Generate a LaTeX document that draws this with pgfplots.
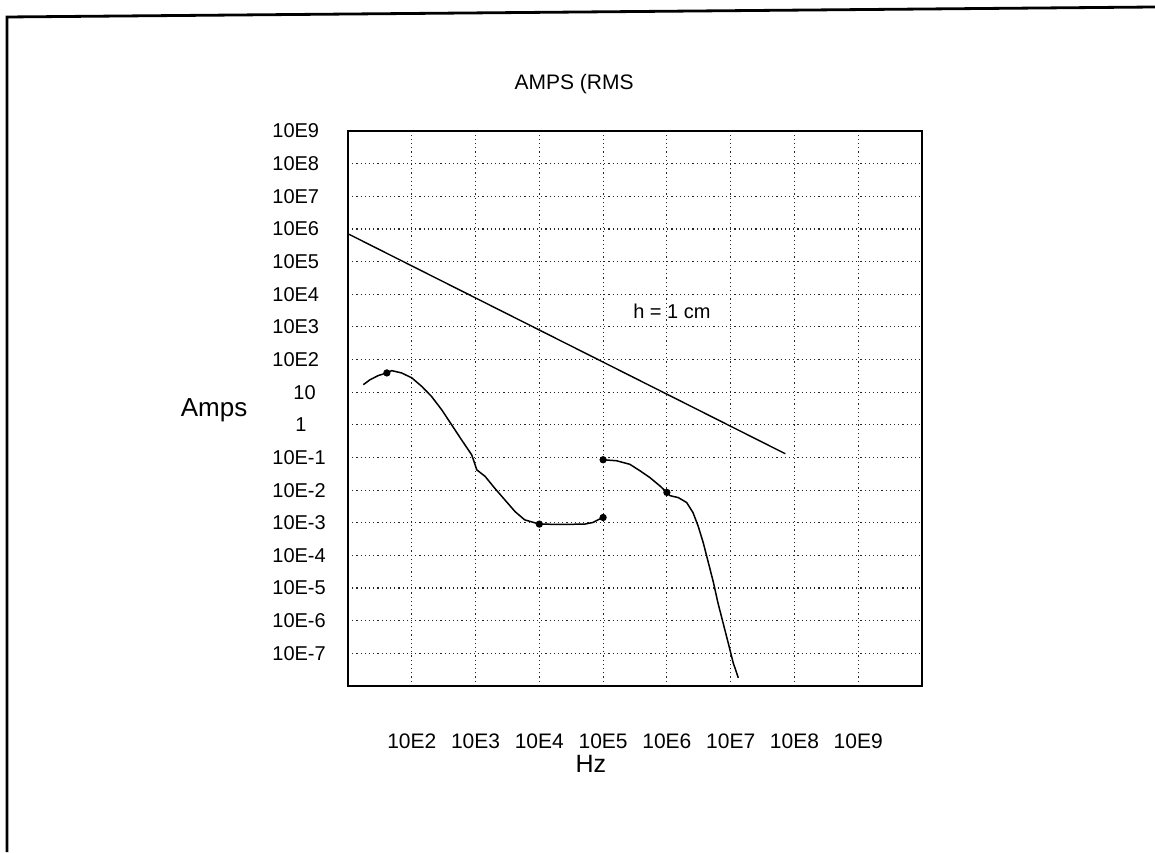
\documentclass[border=0pt]{standalone}
\usepackage{pgfplots}
\pgfplotsset{compat=1.18}
\usepackage{fontspec}
\setmainfont{Liberation Sans}
\begin{document}
\begin{tikzpicture}[x=0.5pt,y=0.5pt]
\useasboundingbox (0,0) rectangle (1155,852);
\fill[white] (0,0) rectangle (1155,852);
\draw[line width=1.4pt] (7,0) -- (7,835) -- (1155,845);
\begin{axis}[
  at={(174pt,83pt)}, anchor=south west,
  width=287pt, height=277.5pt, scale only axis,
  xmode=log, ymode=log,
  xmin=1e1, xmax=1e10, ymin=1e-8, ymax=1e9,
  xtick={1e2,1e3,1e4,1e5,1e6,1e7,1e8,1e9},
  xticklabels={10E2,10E3,10E4,10E5,10E6,10E7,10E8,10E9},
  ytick={1e-7,1e-6,1e-5,1e-4,1e-3,1e-2,1e-1,1,1e1,1e2,1e3,1e4,1e5,1e6,1e7,1e8,1e9},
  yticklabels={10E-7,10E-6,10E-5,10E-4,10E-3,10E-2,10E-1,\hspace*{11.5pt}1,\hspace*{10.5pt}10,10E2,10E3,10E4,10E5,10E6,10E7,10E8,10E9},
  minor xtick={}, minor ytick={},
  major tick length=0pt, minor tick length=0pt,
  grid=major,
  major grid style={black!85, line width=0.6pt, dash pattern=on 0.6pt off 1.5pt},
  axis line style={line width=1.1pt},
  yticklabel style={font=\fontsize{10}{12}\selectfont, anchor=west, inner sep=0pt, xshift=-38pt},
  xticklabel style={font=\fontsize{10.5}{12}\selectfont, anchor=center, inner sep=0pt, yshift=-27.5pt},
  title={AMPS (RMS},
  title style={at={(axis description cs:0.394,1.0532)}, anchor=base, inner sep=0pt, font=\fontsize{10.5}{12}\selectfont},
  xlabel={Hz},
  xlabel style={at={(axis description cs:0.423,-0.155)}, anchor=base, inner sep=0pt, font=\fontsize{12.5}{14}\selectfont},
  ylabel={Amps},
  ylabel style={rotate=-90, at={(axis description cs:-0.2334,0.4847)}, anchor=base, inner sep=0pt, font=\fontsize{13}{15}\selectfont},
]
% h = 1 cm line
\addplot[black, line width=0.7pt] coordinates {(10,7.1e5) (7.2e7,0.13)};
% low-frequency curve
\addplot[black, line width=0.75pt] coordinates {
(17.4,17.0) (22.1,24.0) (29.9,32.4) (40.7,38.9) (48.4,45.7) (69.2,38.9)
(100,27.5) (143,15.1) (204,7.41) (295,2.88) (422,1.0) (603,0.347)
(871,0.120) (1047,0.0417) (1413,0.0263) (1995,0.0115) (2884,0.00501)
(4169,0.00219) (5888,0.00123) (10000,0.00091) (22390,0.00089)
(51290,0.00091) (69180,0.00102) (83180,0.00123) (100000,0.00145)
};
% high-frequency curve
\addplot[black, line width=0.75pt] coordinates {
(100000,0.0851) (162200,0.0794) (263000,0.0617) (380200,0.0389)
(537000,0.0245) (776200,0.0135) (1000000,0.0085) (1122000,0.00676)
(1514000,0.00589) (2042000,0.00417) (2570000,0.00204) (3090000,0.000794)
(3715000,0.000245) (4467000,6.03e-5) (5370000,1.48e-5) (6310000,3.55e-6)
(7586000,8.71e-7) (9120000,2.14e-7) (1.096e7,5.13e-8) (1.318e7,1.78e-8)
};
% points
\addplot[only marks, mark=*, mark size=1.6pt, black] coordinates {
(40.7,38.9) (10000,0.00091) (100000,0.00145) (100000,0.0851) (1000000,0.0085)
};
\node[font=\fontsize{10}{12}\selectfont, inner sep=0pt] at (axis cs:1.2e6,3090) {h = 1 cm};
\end{axis}
\end{tikzpicture}
\end{document}
